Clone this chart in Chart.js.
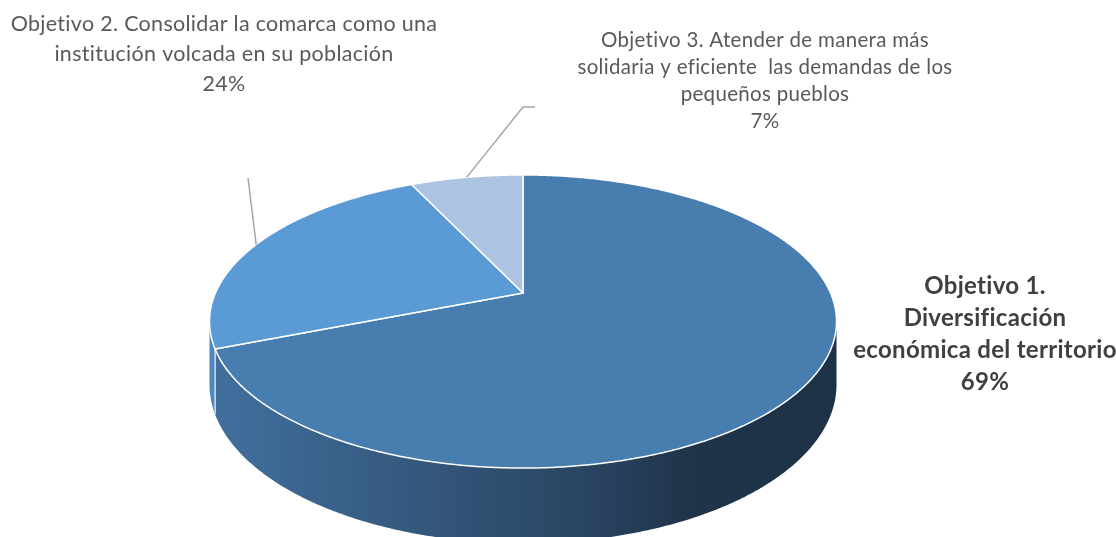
<!DOCTYPE html>
<html><head><meta charset="utf-8">
<script src="https://cdn.jsdelivr.net/npm/chart.js@4"></script>
<style>html,body{margin:0;padding:0;background:#fff;overflow:hidden}</style>
</head><body>
<canvas id="c" width="1116" height="537"></canvas>
<script>
// ---- data ----
const categories = [
  ['Objetivo 1.', 'Diversificación', 'económica del territorio'],
  ['Objetivo 2. Consolidar la comarca como una', 'institución volcada en su población'],
  ['Objetivo 3. Atender de manera más', 'solidaria y eficiente  las demandas de los', 'pequeños pueblos']
];
const values = [69, 24, 7];

// ---- styles ----
const topColors = ['#477DAF', '#5B9BD5', '#ADC3E2'];
const sideColors = [null, '#4F88BF', '#8FA9CC'];
const labelStyle = [
  {x: 985, y: 294, lh: 32, font: 'bold 24px Lato', color: '#404040', leader: null},
  {x: 224, y: 31, lh: 30, font: '21.5px Lato', color: '#595959', leader: [[248, 178]]},
  {x: 765, y: 47, lh: 27, font: '20.5px Lato', color: '#595959', leader: [[523, 107], [535, 107]]}
];

const K = 0.1945;       // perspective strength
const XSCALE = 2.181;   // horizontal stretch of the disc
const DEPTH = 0.43;     // thickness relative to radius

function geom(chart) {
  const el = chart.getDatasetMeta(0).data[0];
  const cx = el.x, cy = el.y, R = el.outerRadius;
  const A = R * XSCALE, B = R, D = R * DEPTH;
  const P = (a, dz) => {
    const u = Math.cos(a), v = Math.sin(a), w = 1 - K * v;
    return [cx + A * u / w, cy + (B * v + dz) / w];
  };
  return {cx, cy, R, A, B, D, P};
}

function arcPts(P, a0, a1, dz) {
  const n = Math.max(2, Math.ceil(Math.abs(a1 - a0) / 0.008));
  const pts = [];
  for (let i = 0; i <= n; i++) pts.push(P(a0 + (a1 - a0) * i / n, dz));
  return pts;
}

const pie3d = {
  id: 'pie3d',
  beforeDatasetsDraw(chart) {
    const ctx = chart.ctx;
    const meta = chart.getDatasetMeta(0);
    const g = geom(chart);
    const {P, cx, cy, A, D} = g;
    const tR = Math.asin(K), tL = Math.PI - Math.asin(K);
    const half = A / Math.sqrt(1 - K * K);
    // sides
    meta.data.forEach((arc, i) => {
      let s = arc.startAngle, e = arc.endAngle;
      for (const off of [0, 2 * Math.PI, -2 * Math.PI]) {
        const s2 = Math.max(s + off, tR), e2 = Math.min(e + off, tL);
        if (e2 <= s2) continue;
        const top = arcPts(P, s2, e2, 0);
        const bot = arcPts(P, e2, s2, D);
        ctx.save();
        ctx.beginPath();
        top.forEach((p, j) => j ? ctx.lineTo(p[0], p[1]) : ctx.moveTo(p[0], p[1]));
        bot.forEach(p => ctx.lineTo(p[0], p[1]));
        ctx.closePath();
        if (i === 0) {
          const gr = ctx.createLinearGradient(cx - half, 0, cx + half, 0);
          gr.addColorStop(0, '#41709E');
          gr.addColorStop(0.58, '#2B4664');
          gr.addColorStop(0.78, '#1F3349');
          gr.addColorStop(1, '#1D3147');
          ctx.fillStyle = gr;
        } else {
          ctx.fillStyle = sideColors[i];
        }
        ctx.fill();
        ctx.restore();
        [s + off, e + off].forEach(a => {
          if (a > tR + 0.01 && a < tL - 0.01) {
            const p0 = P(a, 0), p1 = P(a, D);
            ctx.save();
            ctx.strokeStyle = 'rgba(255,255,255,0.9)';
            ctx.lineWidth = 1;
            ctx.beginPath(); ctx.moveTo(p0[0], p0[1]); ctx.lineTo(p1[0], p1[1]); ctx.stroke();
            ctx.restore();
          }
        });
      }
    });
    // top faces
    meta.data.forEach((arc, i) => {
      const pts = arcPts(P, arc.startAngle, arc.endAngle, 0);
      ctx.save();
      ctx.beginPath();
      ctx.moveTo(cx, cy);
      pts.forEach(p => ctx.lineTo(p[0], p[1]));
      ctx.closePath();
      ctx.fillStyle = topColors[i];
      ctx.fill();
      ctx.strokeStyle = '#ffffff';
      ctx.lineWidth = 1.5;
      ctx.lineJoin = 'round';
      ctx.stroke();
      ctx.restore();
    });
    return false;
  },
  afterDraw(chart) {
    const ctx = chart.ctx;
    const meta = chart.getDatasetMeta(0);
    const {P} = geom(chart);
    meta.data.forEach((arc, i) => {
      const st = labelStyle[i];
      const lines = categories[i].concat([values[i] + '%']);
      if (st.leader) {
        const mid = (arc.startAngle + arc.endAngle) / 2;
        const p = P(mid, 0);
        ctx.save();
        ctx.strokeStyle = '#A6A6A6';
        ctx.lineWidth = 1.5;
        ctx.beginPath();
        ctx.moveTo(p[0], p[1]);
        st.leader.forEach(q => ctx.lineTo(q[0], q[1]));
        ctx.stroke();
        ctx.restore();
      }
      ctx.save();
      ctx.font = st.font;
      if ('letterSpacing' in ctx) ctx.letterSpacing = '0.3px';
      ctx.fillStyle = st.color;
      ctx.textAlign = 'center';
      ctx.textBaseline = 'alphabetic';
      lines.forEach((t, j) => ctx.fillText(t, st.x, st.y + j * st.lh));
      ctx.restore();
    });
  }
};

new Chart(document.getElementById('c'), {
  type: 'pie',
  data: {
    labels: categories.map(l => l.join(' ')),
    datasets: [{data: values, backgroundColor: topColors, borderWidth: 0, hoverOffset: 0}]
  },
  options: {
    responsive: false,
    animation: false,
    events: [],
    layout: {padding: {left: 0, right: 70, top: 152, bottom: 103}},
    plugins: {legend: {display: false}, tooltip: {enabled: false}}
  },
  plugins: [pie3d]
});
</script>
</body></html>
